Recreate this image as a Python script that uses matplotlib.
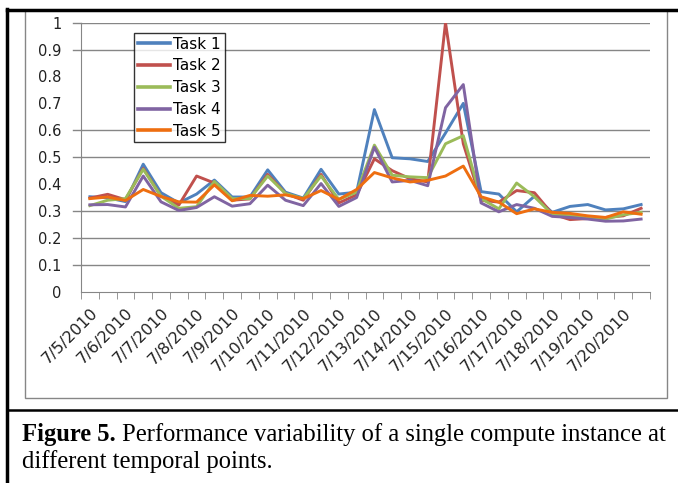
import matplotlib.pyplot as plt
from matplotlib.lines import Line2D
from matplotlib.patches import Rectangle

dates = ["7/5/2010", "7/6/2010", "7/7/2010", "7/8/2010", "7/9/2010",
         "7/10/2010", "7/11/2010", "7/12/2010", "7/13/2010", "7/14/2010",
         "7/15/2010", "7/16/2010", "7/17/2010", "7/18/2010", "7/19/2010",
         "7/20/2010"]

task1 = [0.353, 0.349, 0.335, 0.474, 0.368, 0.330, 0.363, 0.415, 0.352, 0.352,
         0.453, 0.370, 0.348, 0.455, 0.363, 0.370, 0.677, 0.498, 0.494, 0.484,
         0.590, 0.700, 0.372, 0.363, 0.297, 0.355, 0.295, 0.317, 0.324, 0.304,
         0.308, 0.324]
task2 = [0.348, 0.362, 0.342, 0.458, 0.355, 0.322, 0.430, 0.404, 0.340, 0.345,
         0.436, 0.365, 0.340, 0.436, 0.330, 0.360, 0.494, 0.450, 0.420, 0.408,
         1.000, 0.550, 0.340, 0.333, 0.376, 0.368, 0.289, 0.268, 0.272, 0.276,
         0.282, 0.310]
task3 = [0.320, 0.340, 0.346, 0.455, 0.355, 0.310, 0.316, 0.410, 0.346, 0.346,
         0.430, 0.365, 0.346, 0.430, 0.343, 0.370, 0.545, 0.433, 0.427, 0.424,
         0.550, 0.580, 0.346, 0.308, 0.404, 0.353, 0.288, 0.282, 0.276, 0.270,
         0.286, 0.295]
task4 = [0.323, 0.324, 0.315, 0.430, 0.334, 0.302, 0.313, 0.353, 0.318, 0.327,
         0.396, 0.340, 0.320, 0.402, 0.317, 0.350, 0.537, 0.408, 0.414, 0.394,
         0.684, 0.770, 0.330, 0.297, 0.324, 0.310, 0.280, 0.276, 0.270, 0.262,
         0.263, 0.270]
task5 = [0.346, 0.352, 0.339, 0.380, 0.354, 0.334, 0.333, 0.397, 0.338, 0.358,
         0.355, 0.360, 0.346, 0.376, 0.343, 0.380, 0.443, 0.423, 0.408, 0.414,
         0.430, 0.467, 0.353, 0.333, 0.290, 0.308, 0.295, 0.291, 0.282, 0.276,
         0.297, 0.288]

series = [("Task 1", task1, "#4F81BD"),
          ("Task 2", task2, "#C0504D"),
          ("Task 3", task3, "#9BBB59"),
          ("Task 4", task4, "#8064A2"),
          ("Task 5", task5, "#EE6E10")]

y_ticks = [0, 0.1, 0.2, 0.3, 0.4, 0.5, 0.6, 0.7, 0.8, 0.9, 1]
y_labels = ["0", "0.1", "0.2", "0.3", "0.4", "0.5", "0.6", "0.7", "0.8", "0.9", "1"]
# the scanned picture lost some grid rows, only these show
grid_levels = [0.1, 0.2, 0.3, 0.5, 0.6, 0.9, 1.0]

caption_bold = "Figure 5."
caption_line1 = " Performance variability of a single compute instance at"
caption_line2 = "different temporal points."

W, H = 678, 483
grey = "#868686"
font = "DejaVu Sans"

fig = plt.figure(figsize=(W / 100, H / 100), dpi=100)


def fx(px):
    return px / W


def fy(py):
    return 1 - py / H


ax = fig.add_axes([fx(81), fy(291.7), fx(650) - fx(81), fy(22.7) - fy(291.7)])

n = len(task1)
xs = list(range(n))
for name, vals, col in series:
    ax.plot(xs, vals, color=col, lw=2.1, label=name, solid_joinstyle="round")

ax.set_xlim(-0.5, n - 0.5)
ax.set_ylim(0, 1)

# grid lines and y tick marks
for g in grid_levels:
    ax.axhline(g, color=grey, lw=1, zorder=0)
ax.set_yticks(y_ticks)
ax.set_yticklabels(y_labels, fontsize=10.5, family=font, color="#222222")
ax.tick_params(axis="y", length=0, pad=14)
for g in grid_levels:
    ax.plot([-0.5 - 0.45, -0.5], [g, g], color=grey, lw=1, clip_on=False)

# category ticks between points, labels every other day slot
ax.set_xticks([i - 0.5 for i in range(n + 1)], minor=True)
ax.set_xticks(list(range(0, n, 2)))
ax.set_xticklabels(dates, rotation=45, ha="right", rotation_mode="anchor",
                   fontsize=11.5, family=font, color="#222222")
ax.tick_params(axis="x", which="major", length=0, pad=10)
ax.tick_params(axis="x", which="minor", length=5, color=grey, direction="out")

for s in ["top", "right"]:
    ax.spines[s].set_visible(False)
ax.spines["left"].set_color(grey)
ax.spines["bottom"].set_color(grey)

handles = [Line2D([], [], color=c, lw=2.6) for _, _, c in series]
leg = ax.legend(handles, [s[0] for s in series], loc="upper left",
                bbox_to_anchor=(0.094, 0.962), frameon=True, fancybox=False,
                prop={"family": font, "size": 11}, handlelength=2.1,
                handletextpad=0.2, labelspacing=0.44, borderpad=0.25,
                borderaxespad=0)
leg.get_frame().set_edgecolor("black")
leg.get_frame().set_linewidth(1)

# chart area border and page frame lines
fig.patches.append(Rectangle((fx(25), fy(398)), fx(667) - fx(25), fy(10) - fy(398),
                             transform=fig.transFigure, fill=False,
                             edgecolor=grey, lw=1))
fig.add_artist(Line2D([fx(7), 1], [fy(10), fy(10)], color="black", lw=2.5))
fig.add_artist(Line2D([fx(7), fx(7)], [fy(9), 0], color="black", lw=2.5))
fig.add_artist(Line2D([fx(7), 1], [fy(410), fy(410)], color="black", lw=1.8))

# caption
cap_size = 17.7
t1 = fig.text(fx(22), fy(441), caption_bold, fontsize=cap_size,
              family="Liberation Serif", weight="bold", va="baseline")
fig.canvas.draw()
bb = t1.get_window_extent(fig.canvas.get_renderer())
fig.text(bb.x1 / W, fy(441), caption_line1, fontsize=cap_size,
         family="Liberation Serif", va="baseline")
fig.text(fx(22), fy(468), caption_line2, fontsize=cap_size,
         family="Liberation Serif", va="baseline")

fig.savefig("out.png", dpi=100)
